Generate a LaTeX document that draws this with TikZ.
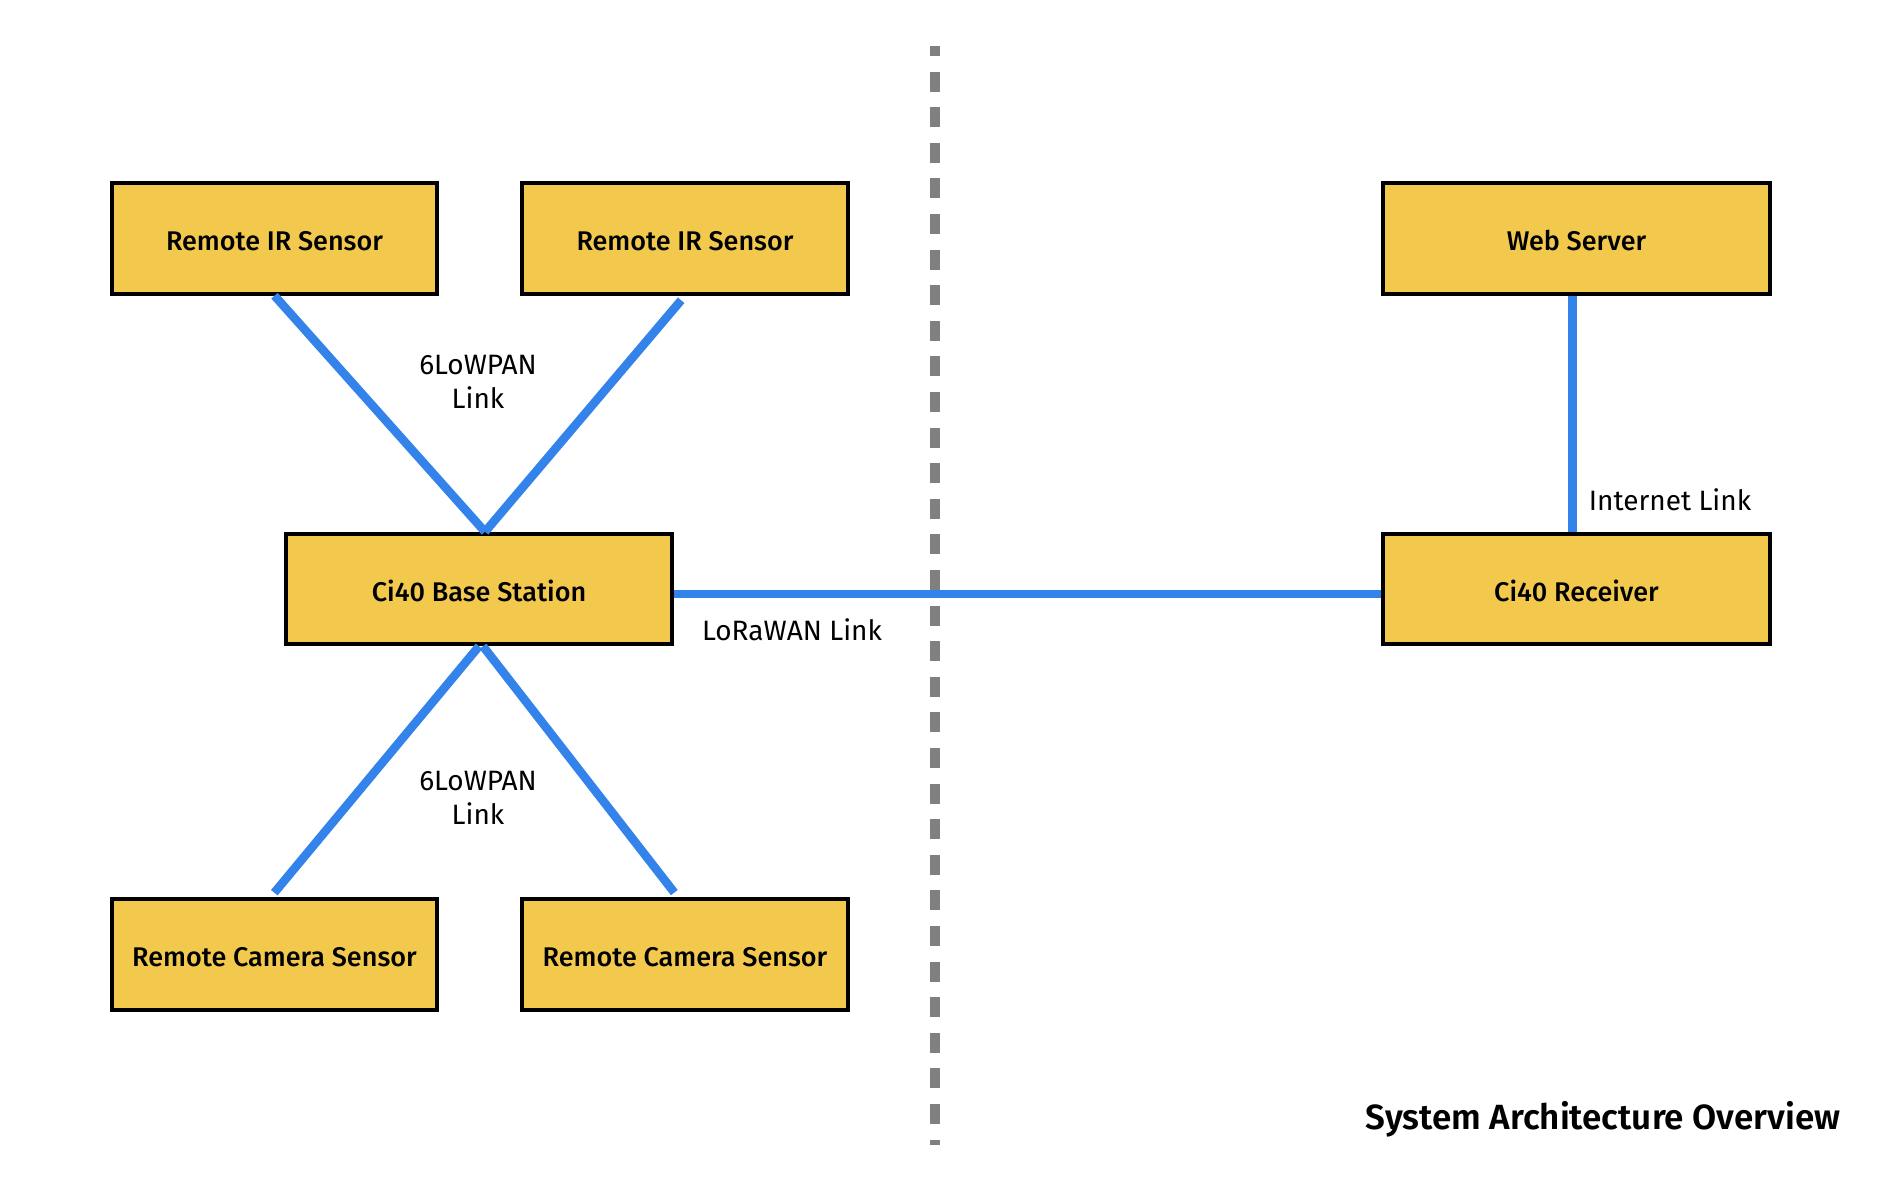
\documentclass[tikz,border=0pt]{standalone}
\usepackage{fontspec}
\setmainfont{Fira Sans}
\newfontfamily\boxfont{Fira Sans Medium}
\newfontfamily\titlefont{Fira Sans SemiBold}
\usepackage{tikz}

\definecolor{boxyellow}{RGB}{242,201,76}
\definecolor{linkblue}{RGB}{51,131,235}
\definecolor{dividergrey}{RGB}{128,128,128}

\tikzset{
  unitbox/.style={draw=black, line width=2pt, fill=boxyellow, minimum width=162.6pt, minimum height=55.2pt, inner sep=0pt, text height=12pt, text depth=0pt, font=\boxfont\fontsize{13.5}{16}\selectfont},
  widebox/.style={unitbox, minimum width=193.2pt},
  link/.style={draw=linkblue, line width=4.3pt},
  linklabel/.style={inner sep=0pt, align=center, font=\fontsize{14}{16.8}\selectfont},
}

\begin{document}
\begin{tikzpicture}[x=0.5pt,y=0.5pt,yscale=-1,xscale=1]
\useasboundingbox (0,0) rectangle (1884,1196);

%Dashed divider
\coordinate (divTop) at (935,46);
\coordinate (divBot) at (935,1145);
\draw [dividergrey, line width=5pt, dash pattern=on 10pt off 7.8pt, dash phase=5pt] (divTop) -- (divBot) ;

% Boxes
\node [unitbox] (irA) at (274.5,238.5) {Remote IR Sensor};
\node [unitbox] (irB) at (685,238.5) {Remote IR Sensor};
\node [widebox] (base) at (479,589) {Ci40 Base Station};
\node [unitbox] (camA) at (274.5,954.5) {Remote Camera Sensor};
\node [unitbox] (camB) at (685,954.5) {Remote Camera Sensor};
\node [widebox] (web) at (1576.5,238.5) {Web Server};
\node [widebox] (recv) at (1576.5,589) {Ci40 Receiver};

%Straight Lines
\draw [link] (irA.south) -- ([xshift=3pt]base.north) ;
\draw [link, shorten <=3pt] (irB.south) -- ([xshift=3pt]base.north) ;
\draw [link, shorten >=3pt] (base.south) -- ([xshift=-2pt]camA.north) ;
\draw [link, shorten >=3pt] ([xshift=2pt]base.south) -- ([xshift=-3.5pt]camB.north) ;
\draw [link] ([yshift=2.5pt]base.east) -- ([yshift=2.5pt]recv.west) ;
\draw [link] ([xshift=-2pt]web.south) -- ([xshift=-2pt]recv.north) ;

% Text Node
\node [linklabel] (lblTop) at (478,382) {6LoWPAN\\Link};
% Text Node
\node [linklabel] (lblBot) at (478,798) {6LoWPAN\\Link};
% Text Node
\node [linklabel] (lblLora) at (792,630) {LoRaWAN Link};
% Text Node
\node [linklabel] (lblNet) at (1670,500) {Internet Link};
% Text Node
\node [inner sep=0pt, font=\titlefont\fontsize{17.5}{21}\selectfont] (title) at (1603,1119) {System Architecture Overview};

\end{tikzpicture}
\end{document}
